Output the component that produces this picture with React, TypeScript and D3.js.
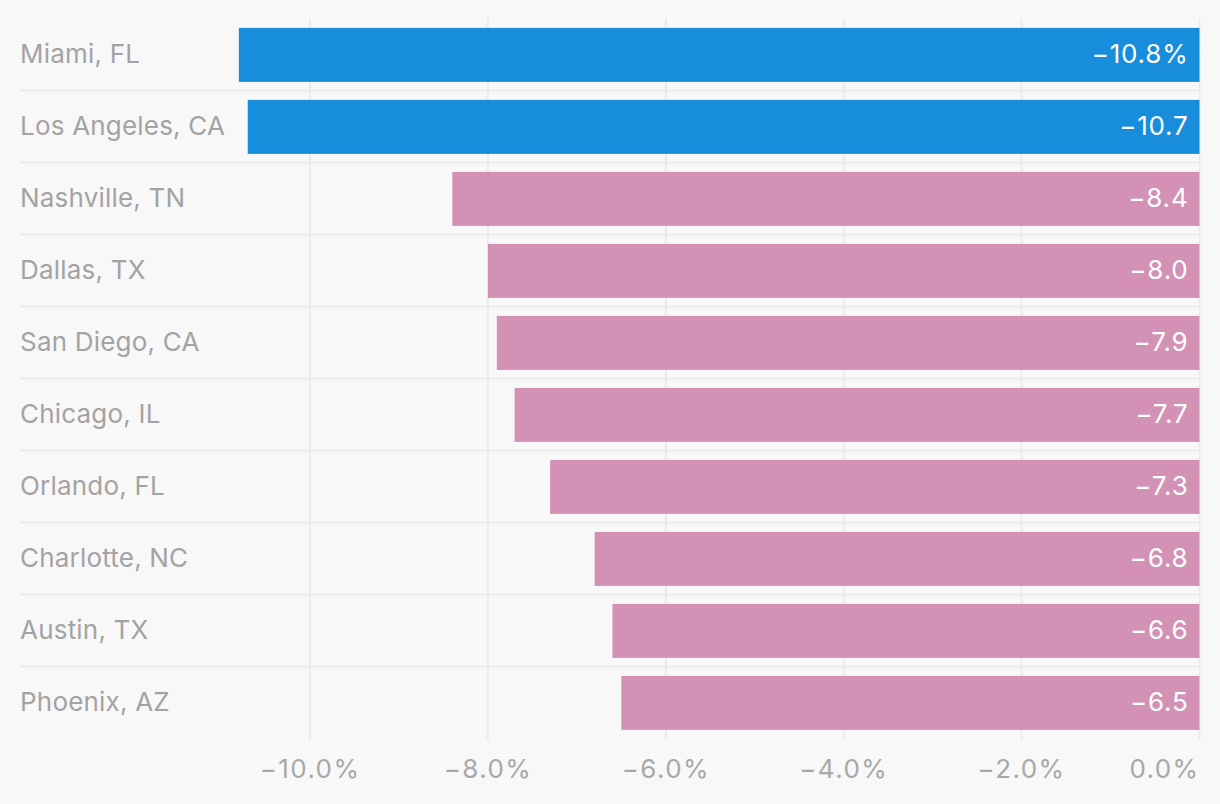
import { useEffect, useRef } from "react";
import * as d3 from "d3";

const cities = [
  "Miami, FL",
  "Los Angeles, CA",
  "Nashville, TN",
  "Dallas, TX",
  "San Diego, CA",
  "Chicago, IL",
  "Orlando, FL",
  "Charlotte, NC",
  "Austin, TX",
  "Phoenix, AZ",
];
const changes = [-10.8, -10.7, -8.4, -8.0, -7.9, -7.7, -7.3, -6.8, -6.6, -6.5];
const highlighted = ["Miami, FL", "Los Angeles, CA"];
const tickValues = [-10, -8, -6, -4, -2, 0];

export default function App() {
  const svgRef = useRef<SVGSVGElement>(null);

  useEffect(() => {
    if (!svgRef.current) return;
    const width = 1220;
    const height = 804;
    const font = "Inter, 'Noto Sans', sans-serif";

    document.body.style.margin = "0";
    document.body.style.background = "#f8f8f8";

    d3.select(svgRef.current).selectAll("*").remove();
    const svg = d3
      .select(svgRef.current)
      .attr("width", width)
      .attr("height", height)
      .attr("viewBox", `0 0 ${width} ${height}`)
      .style("display", "block")
      .style("background", "#f8f8f8");

    const data = cities.map((city, i) => ({ city, value: changes[i] }));

    const x = d3.scaleLinear().domain([-10, 0]).range([310, 1199.5]);
    const y = d3
      .scaleBand<string>()
      .domain(cities)
      .range([18, 738])
      .paddingInner(0.25)
      .paddingOuter(0.125)
      .align(0.55);

    const fmt = (v: number) => d3.format(".1f")(v).replace("-", "\u2212");

    // vertical gridlines
    svg
      .append("g")
      .selectAll("line")
      .data(tickValues)
      .join("line")
      .attr("x1", (d) => x(d))
      .attr("x2", (d) => x(d))
      .attr("y1", 18)
      .attr("y2", 740)
      .attr("stroke", "#ebebeb")
      .attr("stroke-width", 2);

    // row separators
    svg
      .append("g")
      .selectAll("line")
      .data(cities.slice(1))
      .join("line")
      .attr("x1", 20)
      .attr("x2", 1200)
      .attr("y1", (d) => y(d)! - (y.step() - y.bandwidth()) / 2 - 0.5)
      .attr("y2", (d) => y(d)! - (y.step() - y.bandwidth()) / 2 - 0.5)
      .attr("stroke", "#ebebeb")
      .attr("stroke-width", 2);

    // bars
    svg
      .append("g")
      .selectAll("rect")
      .data(data)
      .join("rect")
      .attr("x", (d) => x(d.value))
      .attr("y", (d) => y(d.city)!)
      .attr("width", (d) => x(0) - x(d.value))
      .attr("height", y.bandwidth())
      .attr("fill", (d) => (highlighted.includes(d.city) ? "#178ddb" : "#d291b5"));

    // city labels
    svg
      .append("g")
      .selectAll("text")
      .data(data)
      .join("text")
      .attr("x", 20)
      .attr("y", (d) => y(d.city)! + y.bandwidth() / 2)
      .attr("dy", "0.33em")
      .attr("fill", "#a3a3a3")
      .style("font-family", font)
      .style("font-size", "26px")
      .style("letter-spacing", "0.2px")
      .text((d) => d.city);

    // value labels
    svg
      .append("g")
      .selectAll("text")
      .data(data)
      .join("text")
      .attr("x", x(0) - 11)
      .attr("y", (d) => y(d.city)! + y.bandwidth() / 2)
      .attr("dy", "0.33em")
      .attr("text-anchor", "end")
      .attr("fill", "#ffffff")
      .style("font-family", font)
      .style("font-size", "26px")
      .style("letter-spacing", "0.8px")
      .text((d, i) => fmt(d.value) + (i === 0 ? "%" : ""));

    // x axis labels
    svg
      .append("g")
      .selectAll("text")
      .data(tickValues)
      .join("text")
      .attr("x", (d) => x(d))
      .attr("y", 778)
      .attr("text-anchor", (d) => (d === 0 ? "end" : "middle"))
      .attr("fill", "#a8a8a8")
      .style("font-family", font)
      .style("font-size", "26px")
      .style("letter-spacing", "1.4px")
      .text((d) => fmt(d) + "%");
  }, []);

  return <svg ref={svgRef} />;
}
